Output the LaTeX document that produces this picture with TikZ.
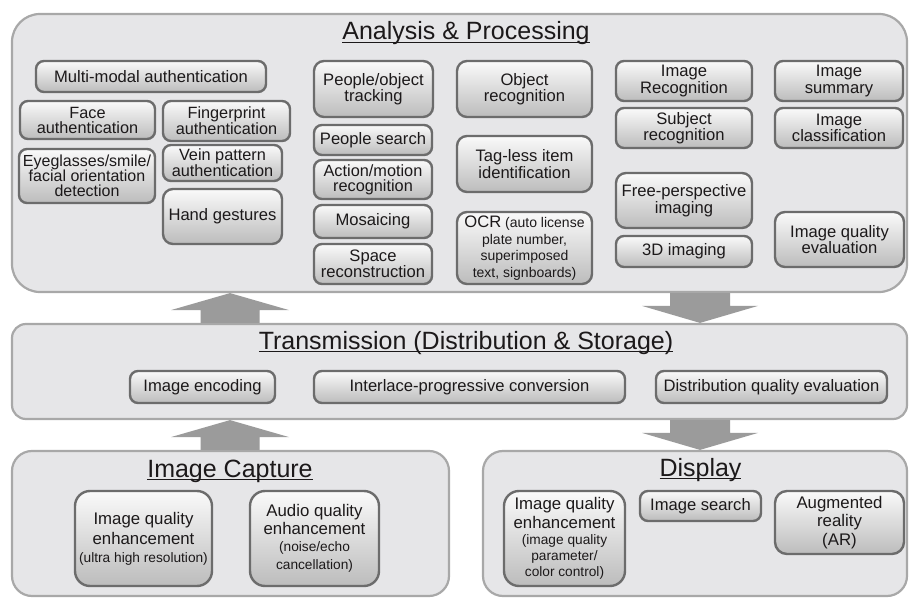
\documentclass[tikz,border=0pt]{standalone}
\usepackage{fontspec}
\setmainfont{Liberation Sans}
\usetikzlibrary{calc}
\definecolor{panelfill}{RGB}{230,230,232}
\definecolor{panelline}{RGB}{168,168,168}
\definecolor{boxline}{RGB}{108,108,108}
\definecolor{boxtop}{RGB}{250,250,250}
\definecolor{boxbot}{RGB}{188,188,188}
\definecolor{arrowc}{RGB}{155,155,155}
\definecolor{txt}{RGB}{28,25,26}
\tikzset{
 panel/.style={draw=panelline, fill=panelfill, line width=2.2pt, inner sep=0pt},
 ibox/.style={draw=boxline, line width=2.4pt, top color=boxtop, bottom color=boxbot,
   rounded corners=8pt, inner sep=0pt, align=center, text=txt,
   font=\fontsize{16.6}{16.5}\selectfont},
 tight/.style={font=\fontsize{16.3}{15}\selectfont},
 ttl/.style={anchor=base, inner sep=0pt, text=txt, font=\fontsize{25}{25}\selectfont},
}
\newcommand\sm{\fontsize{13.7}{16}\selectfont}
\newcommand\ulin[1]{\setbox0=\hbox{#1}\rlap{\rule[-3.4pt]{\wd0}{1.8pt}}\box0}
\newcommand\mybox[7][]{\node[ibox,minimum width={(#5-#3-2)*1pt},minimum height={(#6-#4-2)*1pt},#1] (#2) at ({(#3+#5)/2},{(#4+#6)/2}) {#7};}
\newcommand\mypanel[6][]{\node[panel,minimum width={(#5-#3-2)*1pt},minimum height={(#6-#4-2)*1pt},#1] (#2) at ({(#3+#5)/2},{(#4+#6)/2}) {};}
\newcommand\myuparrow[3]{%
 \path (#3,0 |- #2.south) coordinate (t) (#3,0 |- #1.north) coordinate (b);
 \fill[arrowc] (t) -- ($(t)+(59,17)$) -- ($(t)+(29.5,17)$) -- ($(b)+(29.5,0)$) -- ($(b)+(-29.5,0)$) -- ($(t)+(-29.5,17)$) -- ($(t)+(-59,17)$) -- cycle;}
\newcommand\mydownarrow[3]{%
 \path (#3,0 |- #1.south) coordinate (s) (#3,0 |- #2.north) coordinate (t);
 \fill[arrowc] (t) -- ($(t)+(58,-17)$) -- ($(t)+(30,-17)$) -- ($(s)+(30,0)$) -- ($(s)+(-30,0)$) -- ($(t)+(-30,-17)$) -- ($(t)+(-58,-17)$) -- cycle;}
\begin{document}
\begin{tikzpicture}[x=1pt,y=-1pt]
\fill[white] (0,0) rectangle (911,599);
\useasboundingbox (0,0) rectangle (911,599);
% panels
\mypanel[rounded corners=28pt]{pap}{11}{13}{908}{293}
\mypanel[rounded corners=14pt]{ptr}{11}{323}{908}{420}
\mypanel[rounded corners=20pt]{pcap}{11}{450}{450}{597}
\mypanel[rounded corners=20pt]{pdisp}{482}{450}{908}{597}
% titles
\node[ttl] (tap) at (466,40) {\ulin{Analysis \& Processing}};
\node[ttl] (ttr) at (466,349) {\ulin{Transmission (Distribution \& Storage)}};
\node[ttl] (tcap) at (230,477) {\ulin{Image Capture}};
\node[ttl] (tdisp) at (700.5,476) {\ulin{Display}};
% arrows
\myuparrow{ptr}{pap}{230}
\myuparrow{pcap}{ptr}{230}
\mydownarrow{pap}{ptr}{700}
\mydownarrow{ptr}{pdisp}{700}
% analysis boxes
\mybox{mm}{35}{60}{267}{93}{Multi-modal authentication}
\mybox[tight]{face}{19}{100}{156}{140}{Face\\authentication}
\mybox[tight]{fing}{162}{100}{291}{142}{Fingerprint\\authentication}
\mybox[font=\fontsize{16}{15}\selectfont]{eye}{18}{148}{156}{204}{Eyeglasses/smile/\\facial orientation\\detection}
\mybox[tight]{vein}{162}{144}{283}{182}{Vein pattern\\authentication}
\mybox[rounded corners=10pt]{hand}{162}{188}{283}{245}{Hand gestures}
\mybox[rounded corners=10pt]{track}{313}{60}{434}{118}{People/object\\tracking}
\mybox{psearch}{313}{124}{433}{156}{People search}
\mybox[tight]{action}{313}{159}{433}{200}{Action/motion\\recognition}
\mybox{mosaic}{313}{204}{433}{239}{Mosaicing}
\mybox{space}{313}{243}{433}{285}{Space\\reconstruction}
\mybox[rounded corners=10pt]{objrec}{456}{60}{593}{118}{Object\\recognition}
\mybox[rounded corners=10pt]{tagless}{456}{135}{593}{193}{Tag-less item\\identification}
\mybox[rounded corners=10pt,font=\fontsize{14}{16.5}\selectfont]{ocr}{456}{211}{593}{285}{{\fontsize{16.6}{16.5}\selectfont OCR} (auto license\\plate number,\\superimposed\\text, signboards)}
\mybox{imgrec}{615}{60}{753}{102}{Image\\Recognition}
\mybox{subj}{615}{107}{753}{149}{Subject\\recognition}
\mybox{summ}{774}{60}{904}{102}{Image\\summary}
\mybox{cls}{774}{107}{904}{149}{Image\\classification}
\mybox[rounded corners=10pt]{free}{615}{172}{753}{229}{Free-perspective\\imaging}
\mybox{threed}{615}{235}{753}{268}{3D imaging}
\mybox[rounded corners=10pt]{iqe}{774}{211}{905}{268}{Image quality\\evaluation}
% transmission boxes
\mybox{enc}{129}{370}{276}{404}{Image encoding}
\mybox{inter}{313}{370}{626}{404}{Interlace-progressive conversion}
\mybox{dist}{655}{370}{888}{404}{Distribution quality evaluation}
% capture boxes
\mybox[rounded corners=15pt,font=\fontsize{16.8}{20}\selectfont]{capiq}{74}{490}{213}{587}{Image quality\\enhancement\\[-2pt]{\sm(ultra high resolution)}}
\mybox[rounded corners=15pt,font=\fontsize{16.8}{17.5}\selectfont]{audio}{249}{490}{380}{587}{Audio quality\\enhancement\\{\sm(noise/echo}\\{\sm cancellation)}}
% display boxes
\mybox[rounded corners=15pt,font=\fontsize{16.8}{19}\selectfont]{dispiq}{503}{490}{626}{587}{Image quality\\enhancement\\[-3pt]{\sm(image quality}\\[-3pt]{\sm parameter/}\\[-3pt]{\sm color control)}}
\mybox{isearch}{639}{490}{762}{522}{Image search}
\mybox[rounded corners=12pt,font=\fontsize{16.8}{18.5}\selectfont]{ar}{774}{490}{905}{555}{Augmented\\reality\\(AR)}
\end{tikzpicture}
\end{document}
